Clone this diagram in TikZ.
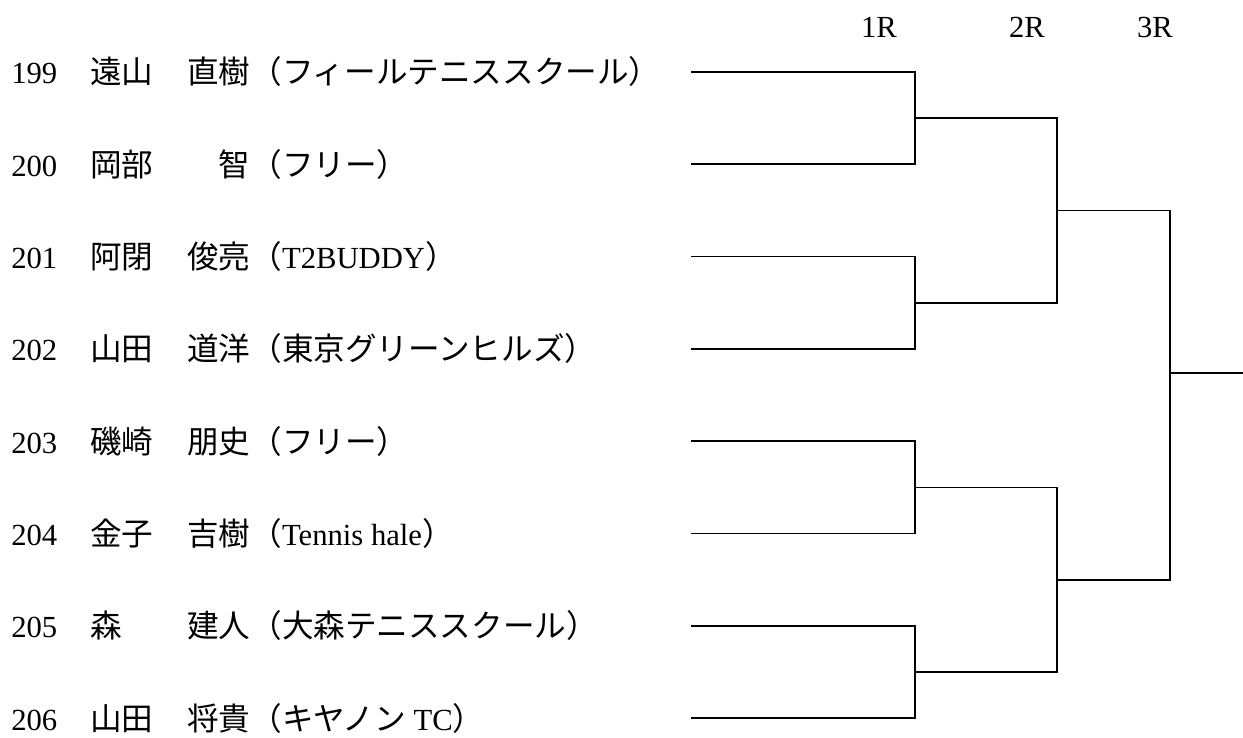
\documentclass[tikz,border=0pt]{standalone}
\usepackage{fontspec}
\setmainfont{Liberation Serif}
\newfontfamily\jp[Scale=1.03]{Noto Sans CJK JP}
\begin{document}
\begin{tikzpicture}[x=0.75pt,y=-0.75pt,
  txt/.style={inner sep=0pt,anchor=base west,font=\fontsize{23pt}{27pt}\selectfont},
  hdr/.style={inner sep=0pt,anchor=base,font=\fontsize{23pt}{27pt}\selectfont},
  brk/.style={line width=1.35pt,line join=miter}]
\useasboundingbox (0,0) rectangle (1243,738);
% header
\node[hdr] (h1) at (879,38) {1R};
\node[hdr] (h2) at (1027,38) {2R};
\node[hdr] (h3) at (1155,38) {3R};
% rows
\def\rowy#1{72+92.3*(#1-1)}
\foreach \i/\n/\s/\g in {
  1/199/遠山/{\jp 直樹（フィールテニススクール）},
  2/200/岡部/{\jp 　智（フリー）},
  3/201/阿閉/{{\jp 俊亮（}T2BUDDY{\jp ）}},
  4/202/山田/{\jp 道洋（東京グリーンヒルズ）},
  5/203/磯崎/{\jp 朋史（フリー）},
  6/204/金子/{{\jp 吉樹（}Tennis hale{\jp ）}},
  7/205/森/{\jp 建人（大森テニススクール）},
  8/206/山田/{{\jp 将貴（キヤノン} TC{\jp ）}}}{
  \node[txt] (num\i) at (11,{\rowy{\i}+12}) {\n};
  \node[txt] (sur\i) at (90,{\rowy{\i}+12}) {\jp \s};
  \node[txt] (giv\i) at (187,{\rowy{\i}+12}) {\g};
  \coordinate (L\i) at (691,{\rowy{\i}});
}
% first round joins
\coordinate (A1) at (915,118.2);
\coordinate (A2) at (915,302.8);
\coordinate (A3) at (915,487.4);
\coordinate (A4) at (915,671.9);
% second round joins
\coordinate (P1) at (1057,210.5);
\coordinate (P2) at (1057,579.6);
% third round join
\coordinate (Q) at (1170,372.7);
\coordinate (W) at (1245,372.7);
\draw[brk] (L1) -| (A1) |- (L2);
\draw[brk] (L3) -| (A2) |- (L4);
\draw[brk] (L5) -| (A3) |- (L6);
\draw[brk] (L7) -| (A4) |- (L8);
\draw[brk] (A1) -| (P1) |- (A2);
\draw[brk] (A3) -| (P2) |- (A4);
\draw[brk] (P1) -| (Q) |- (P2);
\draw[brk] (Q) -- (W);
\end{tikzpicture}
\end{document}
